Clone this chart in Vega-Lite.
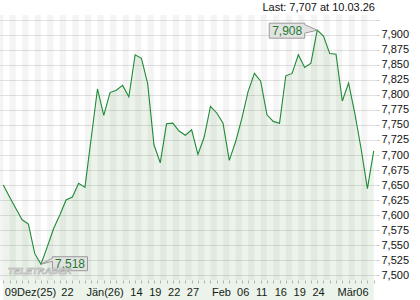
{
  "$schema": "https://vega.github.io/schema/vega-lite/v6.json",
  "width": 376,
  "height": 265,
  "autosize": {"type": "none"},
  "padding": {"left": 0, "top": 15, "right": 44, "bottom": 20},
  "background": "white",
  "config": {
    "view": {"stroke": null},
    "font": "Liberation Sans",
    "locale": {"number": {"decimal": ",", "thousands": ".", "grouping": [3], "currency": ["", " €"]}}
  },
  "title": {
    "text": "Last: 7,707  at 10.03.26",
    "anchor": "end",
    "frame": "group",
    "fontSize": 11,
    "fontWeight": "normal",
    "font": "Liberation Sans",
    "color": "#111111",
    "offset": 2,
    "dy": 3,
    "dx": -1
  },
  "data": {
    "values": [
      {"i": 0, "v": 7.650}, {"i": 1, "v": 7.630}, {"i": 2, "v": 7.611}, {"i": 3, "v": 7.592},
      {"i": 4, "v": 7.585}, {"i": 5, "v": 7.536}, {"i": 6, "v": 7.518}, {"i": 7, "v": 7.547},
      {"i": 8, "v": 7.577}, {"i": 9, "v": 7.600}, {"i": 10, "v": 7.625}, {"i": 11, "v": 7.630},
      {"i": 12, "v": 7.653}, {"i": 13, "v": 7.646}, {"i": 14, "v": 7.728}, {"i": 15, "v": 7.810},
      {"i": 16, "v": 7.766}, {"i": 17, "v": 7.804}, {"i": 18, "v": 7.808}, {"i": 19, "v": 7.816},
      {"i": 20, "v": 7.797}, {"i": 21, "v": 7.867}, {"i": 22, "v": 7.861}, {"i": 23, "v": 7.819},
      {"i": 24, "v": 7.717}, {"i": 25, "v": 7.687}, {"i": 26, "v": 7.752}, {"i": 27, "v": 7.753},
      {"i": 28, "v": 7.740}, {"i": 29, "v": 7.733}, {"i": 30, "v": 7.742}, {"i": 31, "v": 7.701},
      {"i": 32, "v": 7.730}, {"i": 33, "v": 7.781}, {"i": 34, "v": 7.770}, {"i": 35, "v": 7.753},
      {"i": 36, "v": 7.691}, {"i": 37, "v": 7.722}, {"i": 38, "v": 7.761}, {"i": 39, "v": 7.806},
      {"i": 40, "v": 7.836}, {"i": 41, "v": 7.823}, {"i": 42, "v": 7.767}, {"i": 43, "v": 7.756},
      {"i": 44, "v": 7.753}, {"i": 45, "v": 7.832}, {"i": 46, "v": 7.836}, {"i": 47, "v": 7.867},
      {"i": 48, "v": 7.846}, {"i": 49, "v": 7.853}, {"i": 50, "v": 7.908}, {"i": 51, "v": 7.898},
      {"i": 52, "v": 7.869}, {"i": 53, "v": 7.868}, {"i": 54, "v": 7.790}, {"i": 55, "v": 7.820},
      {"i": 56, "v": 7.769}, {"i": 57, "v": 7.710}, {"i": 58, "v": 7.644}, {"i": 59, "v": 7.707}
    ]
  },
  "encoding": {
    "x": {
      "field": "i",
      "type": "quantitative",
      "scale": {"domain": [-0.526, 59.366], "nice": false, "zero": false},
      "axis": {
        "title": null,
        "orient": "bottom",
        "values": [0,1,2,3,4,5,6,7,8,9,10,11,12,13,14,15,16,17,18,19,20,21,22,23,24,25,26,27,28,29,30,31,32,33,34,35,36,37,38,39,40,41,42,43,44,45,46,47,48,49,50,51,52,53,54,55,56,57,58,59],
        "labelExpr": "datum.value == 0 ? '09Dez(25)' : datum.value == 9 ? '22' : datum.value == 13 ? 'Jän(26)' : datum.value == 20 ? '14' : datum.value == 23 ? '19' : datum.value == 26 ? '22' : datum.value == 29 ? '27' : datum.value == 33 ? 'Feb' : datum.value == 37 ? '06' : datum.value == 40 ? '11' : datum.value == 43 ? '16' : datum.value == 46 ? '19' : datum.value == 49 ? '24' : datum.value == 53 ? 'Mär' : datum.value == 56 ? '06' : ''",
        "grid": false,
        "domain": false,
        "ticks": true,
        "tickSize": 3,
        "tickColor": "#bdbdbd",
        "labelAlign": "left",
        "labelBaseline": "top",
        "labelPadding": 3,
        "labelOffset": 1,
        "labelFont": "Liberation Sans",
        "labelFontSize": 11,
        "labelColor": "#111111",
        "labelOverlap": false,
        "labelFlush": false,
        "labelBound": false
      }
    },
    "y": {
      "field": "v",
      "type": "quantitative",
      "scale": {"domain": [7.4917, 7.9333], "nice": false, "zero": false},
      "axis": {
        "title": null,
        "orient": "right",
        "values": [7.5, 7.525, 7.55, 7.575, 7.6, 7.625, 7.65, 7.675, 7.7, 7.725, 7.75, 7.775, 7.8, 7.825, 7.85, 7.875, 7.9, 7.925],
        "format": ".3f",
        "labelExpr": "datum.value > 7.91 ? '' : datum.label",
        "grid": true,
        "gridColor": "#e2e2e2",
        "gridWidth": 1,
        "domain": false,
        "tickSize": 3,
        "tickColor": "#cccccc",
        "labelPadding": 2,
        "labelFont": "Liberation Sans",
        "labelFontSize": 11,
        "labelColor": "#111111"
      }
    }
  },
  "layer": [
    {
      "transform": [{"filter": "datum.i % 2 == 0"}],
      "mark": {"type": "rule", "stroke": "#000000", "strokeOpacity": 0.045, "strokeWidth": 6.3, "xOffset": -3.14, "strokeCap": "butt"},
      "encoding": {"y": null}
    },
    {
      "mark": {"type": "area", "color": "#3c8c3c", "fillOpacity": 0.1}
    },
    {
      "mark": {"type": "line", "color": "#1f8a36", "strokeWidth": 1.1}
    },
    {
      "transform": [{"filter": "datum.i == 50"}],
      "mark": {"type": "point", "shape": "M-48,-7H-12.5V-5.5L0,0L-12.5,3V8H-48Z", "size": 4, "filled": true, "fill": "#e2e2e2", "stroke": "#9a9a9a", "strokeWidth": 1, "opacity": 1}
    },
    {
      "transform": [{"filter": "datum.i == 50"}],
      "mark": {"type": "text", "dx": -30, "dy": 0.5, "align": "center", "baseline": "middle", "fontSize": 12, "font": "Liberation Sans", "color": "#1e7a30"},
      "encoding": {"text": {"field": "v", "type": "quantitative", "format": ".3f"}}
    },
    {
      "transform": [{"filter": "datum.i == 6"}],
      "mark": {"type": "point", "shape": "M0,0L11.5,-6V-7.5H46.5V6.5H11.5V-3Z", "size": 4, "filled": true, "fill": "#e2e2e2", "stroke": "#9a9a9a", "strokeWidth": 1, "opacity": 1}
    },
    {
      "transform": [{"filter": "datum.i == 6"}],
      "mark": {"type": "text", "dx": 29, "dy": -0.5, "align": "center", "baseline": "middle", "fontSize": 12, "font": "Liberation Sans", "color": "#1e7a30"},
      "encoding": {"text": {"field": "v", "type": "quantitative", "format": ".3f"}}
    },
    {
      "transform": [{"filter": "datum.i == 0"}],
      "mark": {"type": "text", "text": "TELETRADER", "align": "center", "baseline": "middle", "fontSize": 9.5, "fontWeight": "bold", "fontStyle": "italic", "font": "Liberation Sans", "fill": "#efefef", "stroke": "#a8a8a8", "strokeWidth": 0.6},
      "encoding": {"x": {"datum": 5.8, "type": "quantitative"}, "y": {"datum": 7.507, "type": "quantitative"}}
    }
  ]
}
